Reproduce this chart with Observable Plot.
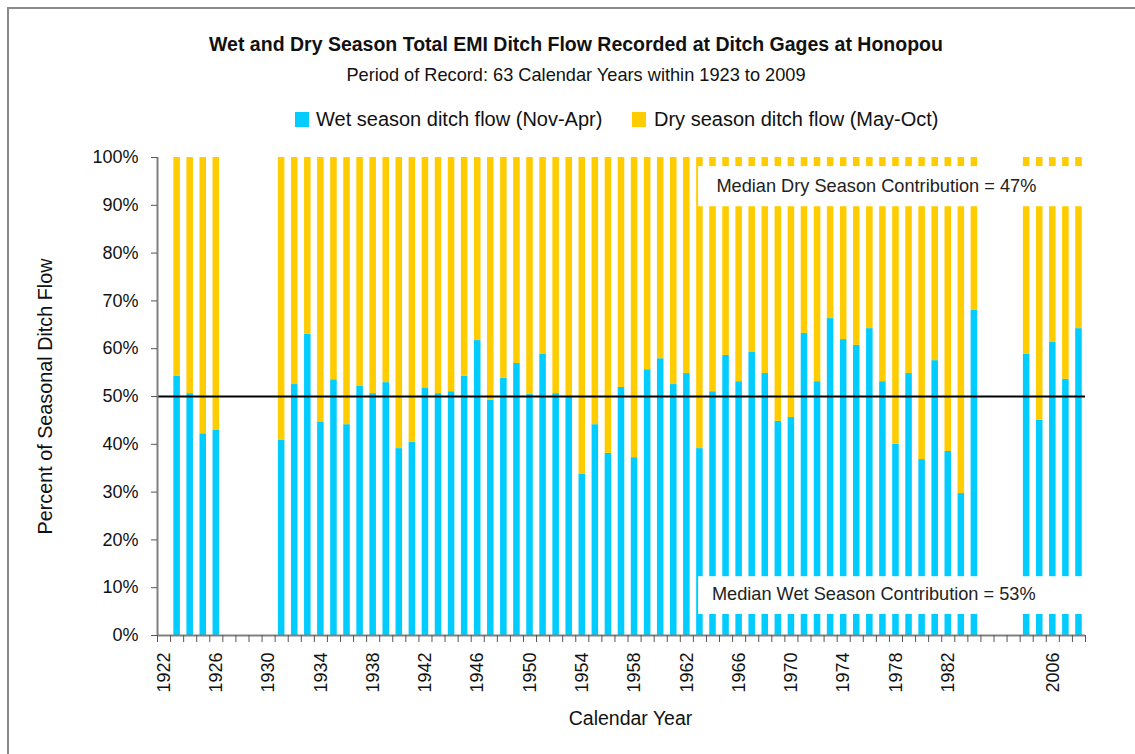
<!DOCTYPE html>
<html>
<head>
<meta charset="utf-8">
<script src="https://cdn.jsdelivr.net/npm/d3@7"></script>
<script src="https://cdn.jsdelivr.net/npm/@observablehq/plot@0.6"></script>
<style>
  body { margin: 0; background: #fff; }
  #wrap { position: relative; width: 1135px; height: 754px; overflow: hidden; background: #fff; }
  #frame { position: absolute; left: 7px; top: 7px; width: 1300px; height: 900px; border-top: 2px solid #8a8a8a; border-left: 2px solid #8a8a8a; }
  .t { position: absolute; left: 0; width: 1152px; text-align: center; line-height: 1; color: #111; white-space: nowrap; }
  #title { top: 33px; font: bold 19.5px "Liberation Sans", Arial, sans-serif; }
  #subtitle { top: 65px; font: 18.2px "Liberation Sans", Arial, sans-serif; }
  .leg { position: absolute; top: 109px; font: 20px "Liberation Sans", Arial, sans-serif; line-height: 1; color: #111; white-space: nowrap; }
  .sw { position: absolute; top: 112px; width: 14px; height: 15px; }
  #chart { position: absolute; left: 0; top: 140px; }
</style>
</head>
<body>
<div id="wrap">
  <div id="frame"></div>
  <div id="title" class="t">Wet and Dry Season Total EMI Ditch Flow Recorded at Ditch Gages at Honopou</div>
  <div id="subtitle" class="t">Period of Record: 63 Calendar Years within 1923 to 2009</div>
  <div id="legend"></div>
  <div id="chart"></div>
</div>
<script>
// Category slots on the x axis (blank slots are empty categories in the gap)
const categories = [
  "1922","1923","1924","1925","1926","1927","1928","1929","1930","1931",
  "1932","1933","1934","1935","1936","1937","1938","1939","1940","1941",
  "1942","1943","1944","1945","1946","1947","1948","1949","1950","1951",
  "1952","1953","1954","1955","1956","1957","1958","1959","1960","1961",
  "1962","1963","1964","1965","1966","1967","1968","1969","1970","1971",
  "1972","1973","1974","1975","1976","1977","1978","1979","1980","1981",
  "1982","1983","1984","","","","2004","2005","2006","2007","2008"
];
const tickLabels = ["1922","1926","1930","1934","1938","1942","1946","1950","1954","1958",
  "1962","1966","1970","1974","1978","1982","2006"];
const yTicks = [0,10,20,30,40,50,60,70,80,90,100];

// Years with records and wet-season share (%) of total ditch flow
const years = [
  "1923","1924","1925","1926",
  "1931","1932","1933","1934","1935","1936","1937","1938","1939","1940",
  "1941","1942","1943","1944","1945","1946","1947","1948","1949","1950",
  "1951","1952","1953","1954","1955","1956","1957","1958","1959","1960",
  "1961","1962","1963","1964","1965","1966","1967","1968","1969","1970",
  "1971","1972","1973","1974","1975","1976","1977","1978","1979","1980",
  "1981","1982","1983","1984",
  "2004","2005","2006","2007","2008"
];
const wetPercent = [
  54.2,50.6,42.2,43.0,
  40.9,52.5,63.0,44.7,53.5,44.1,52.2,50.6,52.9,39.1,
  40.4,51.8,50.6,51.0,54.2,61.7,49.2,53.8,56.9,50.4,
  58.8,50.6,50.0,33.7,44.1,38.1,51.9,37.2,55.6,57.9,
  52.5,54.8,39.1,51.0,58.6,53.1,59.2,54.8,44.8,45.6,
  63.2,53.1,66.3,61.9,60.7,64.2,53.1,40.0,54.8,36.8,
  57.5,38.5,29.7,68.0,
  58.8,45.0,61.3,53.6,64.2
];
const dryPercent = wetPercent.map(w => +(100 - w).toFixed(1));

const seasons = ["Wet season ditch flow (Nov-Apr)", "Dry season ditch flow (May-Oct)"];
const seasonColors = ["#00CCFF", "#FFCC00"];
const medianLine = [50];

// Annotation boxes (in axis units: category slot, percent)
const medianNotes = [
  {label: "Median Dry Season Contribution = 47%", x: 55.0, y: 93.9, x1: 41.4, x2: 71.4, y1: 89.7, y2: 98.1},
  {label: "Median Wet Season Contribution = 53%", x: 54.8, y: 8.6, x1: 41.4, x2: 71.4, y1: 4.4, y2: 12.3}
];

const font = "'Liberation Sans', Arial, sans-serif";

// legend
const leg = document.getElementById("legend");
const legPos = [[295, 316], [632, 654]];
seasons.forEach((s, k) => {
  const sw = document.createElement("div");
  sw.className = "sw"; sw.style.left = legPos[k][0] + "px"; sw.style.background = seasonColors[k];
  leg.appendChild(sw);
  const tx = document.createElement("div");
  tx.className = "leg"; tx.style.left = legPos[k][1] + "px"; tx.textContent = s;
  leg.appendChild(tx);
});

const rows = [];
years.forEach((yr, k) => {
  const i = categories.indexOf(yr);
  rows.push({i, season: seasons[0], y1: 0, y2: wetPercent[k]});
  rows.push({i, season: seasons[1], y1: wetPercent[k], y2: wetPercent[k] + dryPercent[k]});
});
const boundaries = categories.map((c, i) => i).concat([categories.length]);
const labelPositions = tickLabels.map(t => categories.indexOf(t) + 0.5);

const chart = Plot.plot({
  width: 1135,
  height: 614,
  marginLeft: 157,
  marginRight: 50,
  marginTop: 17,
  marginBottom: 119,
  x: {domain: [0, categories.length], axis: null},
  y: {domain: [0, 100], axis: null},
  color: {domain: seasons, range: seasonColors},
  style: {fontFamily: font, fontSize: "18px", color: "#111", background: "transparent", overflow: "visible"},
  marks: [
    Plot.rect(rows, {x1: d => d.i + 0.25, x2: d => d.i + 0.75, y1: "y1", y2: "y2", fill: "season"}),
    Plot.rect(medianNotes, {x1: "x1", x2: "x2", y1: "y1", y2: "y2", fill: "white"}),
    Plot.text(medianNotes, {x: "x", y: "y", text: "label", fontSize: 18.2, fontFamily: font, fill: "#222"}),
    Plot.ruleY(medianLine, {stroke: "#000", strokeWidth: 2}),
    Plot.ruleX([0], {stroke: "#808080", strokeWidth: 2}),
    Plot.ruleY([0], {stroke: "#808080", strokeWidth: 2}),
    Plot.axisY({ticks: yTicks, tickFormat: d => d + "%", tickSize: 6, tickPadding: 13, label: null, fontSize: 18, fontFamily: font, stroke: "#555"}),
    Plot.axisX({ticks: boundaries, tickFormat: () => "", tickSize: 7, label: null, stroke: "#555"}),
    Plot.axisX({ticks: labelPositions, tickFormat: v => categories[Math.floor(v)], tickSize: 0, tickPadding: 17, tickRotate: -90, label: null, fontSize: 18, fontFamily: font}),
    Plot.text(["Calendar Year"], {text: d => d, frameAnchor: "bottom", dx: 9, dy: 83, textAnchor: "middle", lineAnchor: "middle", fontSize: 19.5, fontFamily: font, fill: "#111"}),
    Plot.text(["Percent of Seasonal Ditch Flow"], {text: d => d, frameAnchor: "left", dx: -112, rotate: -90, textAnchor: "middle", lineAnchor: "middle", fontSize: 19.8, fontFamily: font, fill: "#111"})
  ]
});
document.getElementById("chart").appendChild(chart);
</script>
</body>
</html>
